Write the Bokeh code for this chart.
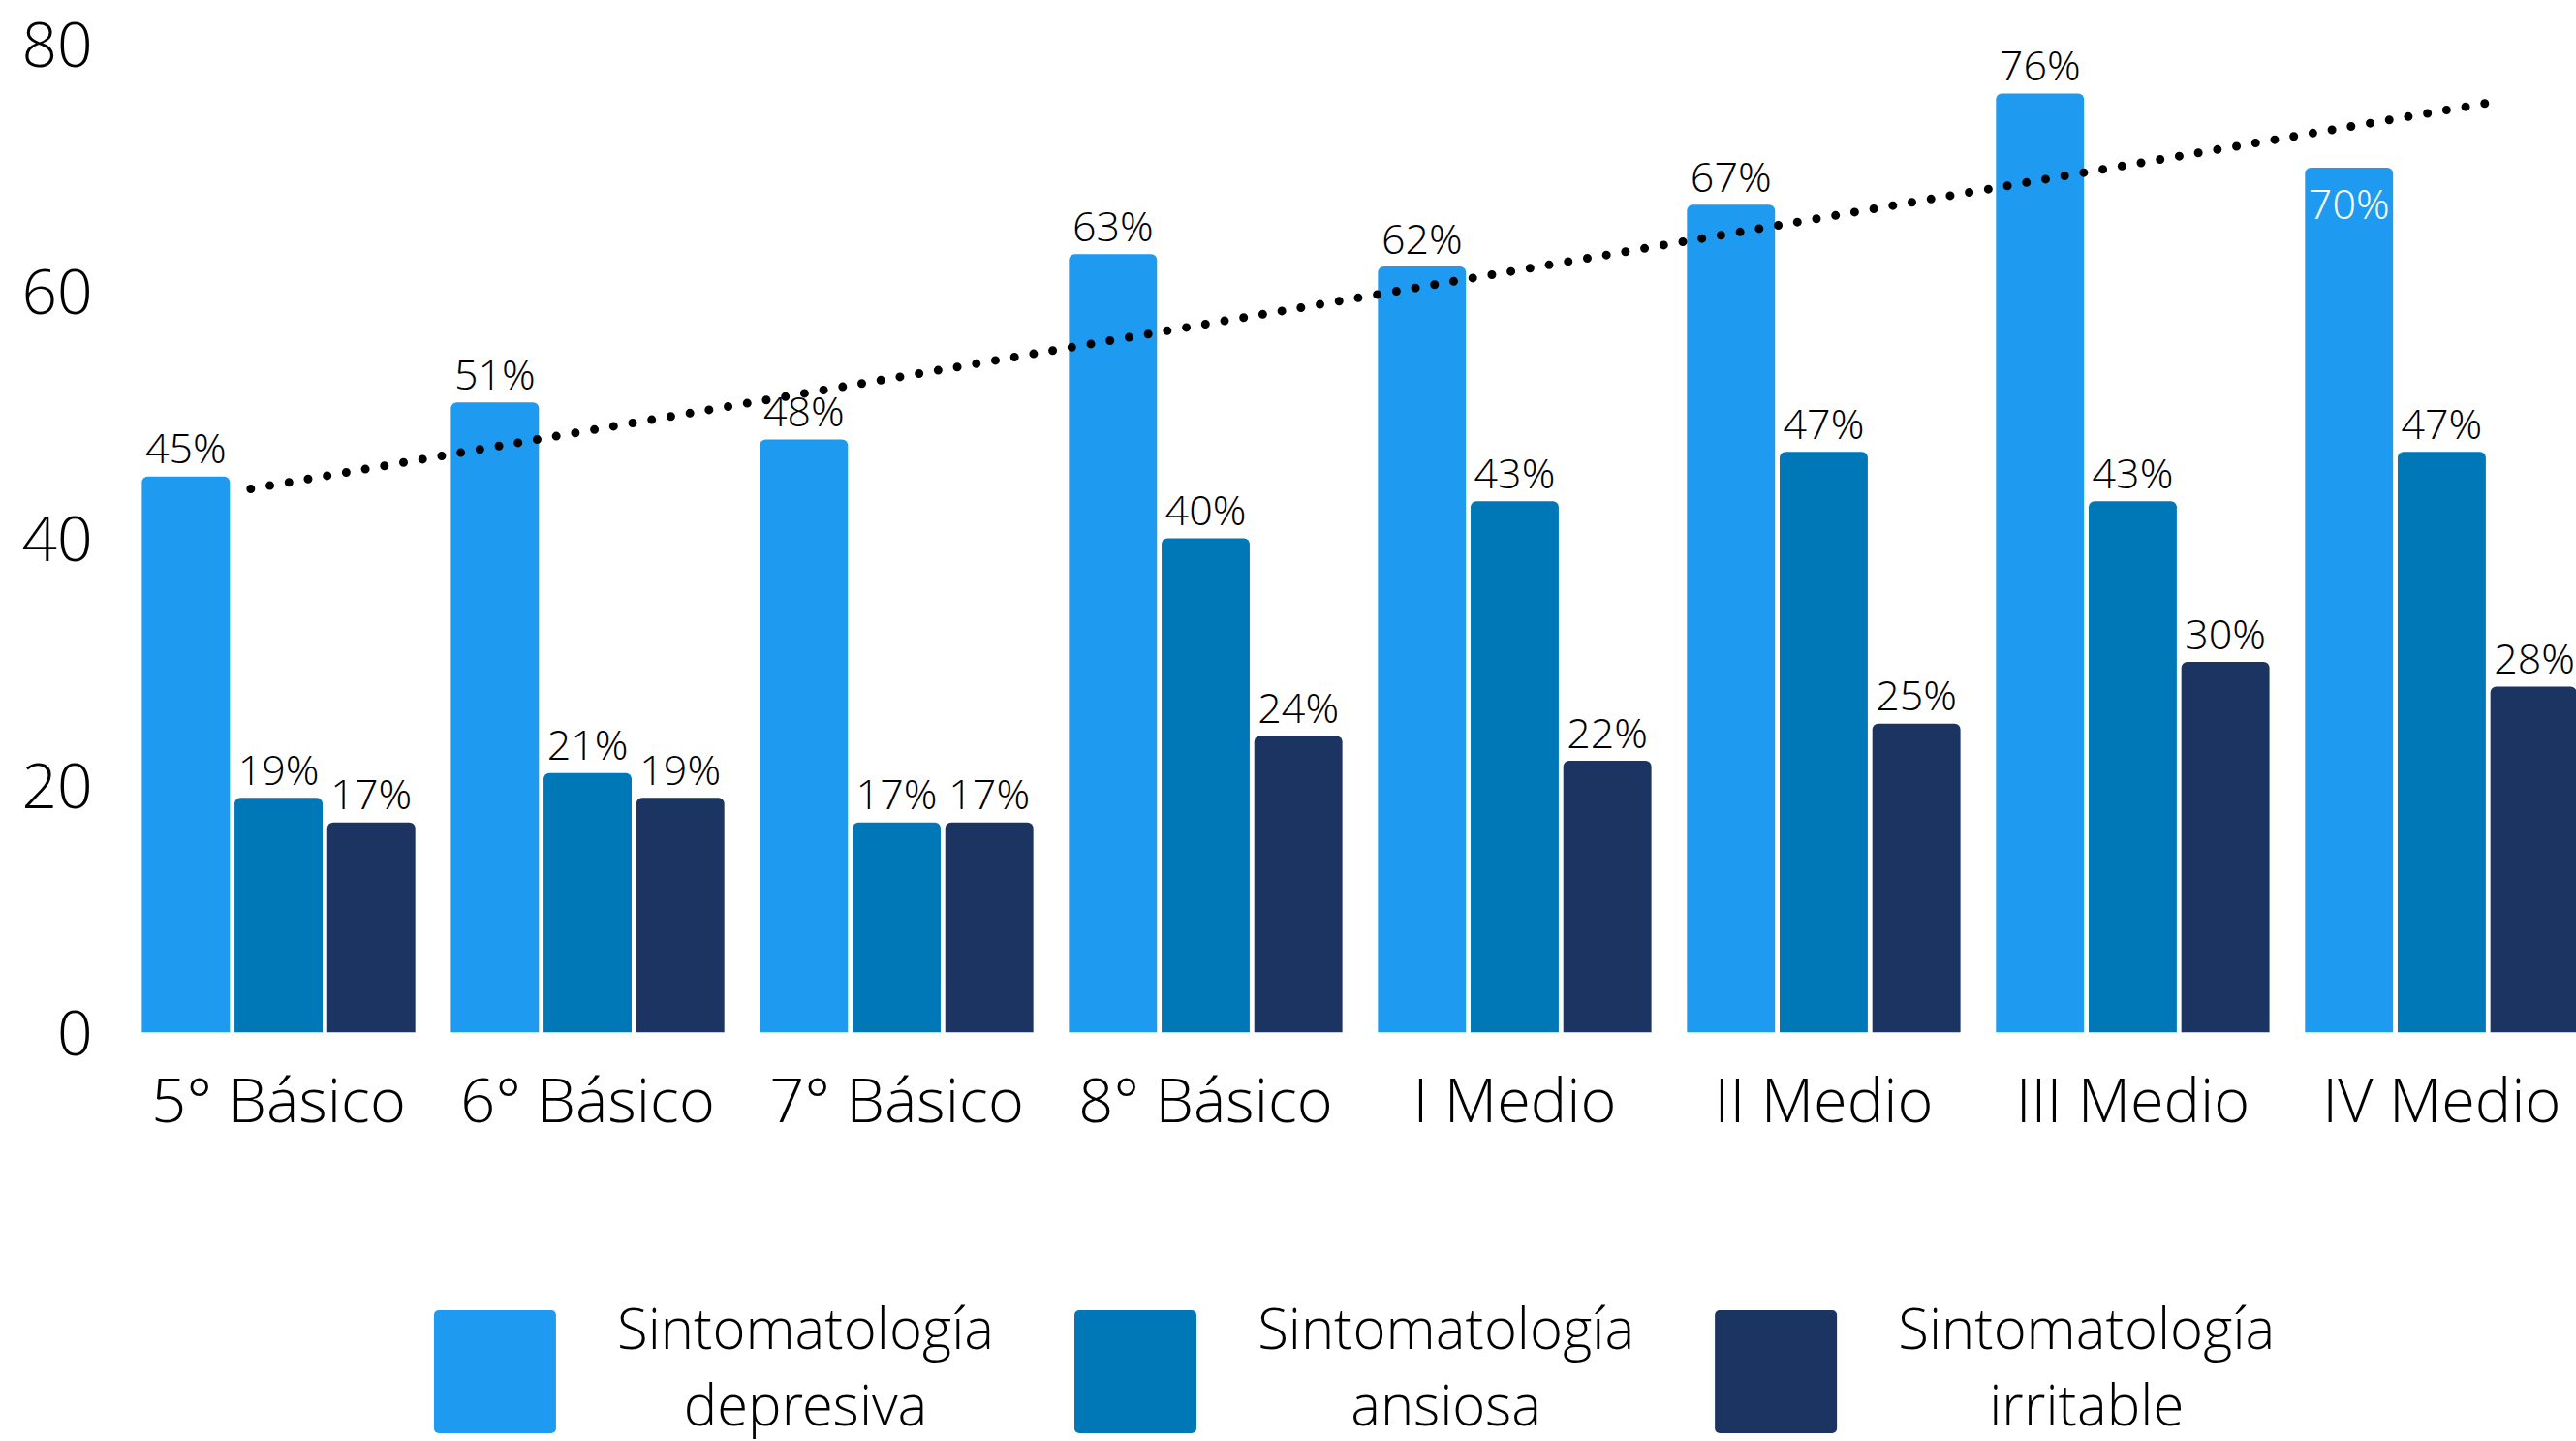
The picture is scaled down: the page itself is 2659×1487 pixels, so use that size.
import numpy as np
from bokeh.plotting import figure
from bokeh.layouts import column
from bokeh.models import ColumnDataSource, Range1d, FixedTicker
from bokeh.transform import dodge
from bokeh.core.properties import value
from bokeh.embed import file_html
from bokeh.resources import INLINE

# ---- data ----
categories = ["5° Básico", "6° Básico", "7° Básico", "8° Básico",
              "I Medio", "II Medio", "III Medio", "IV Medio"]
depresiva = [45, 51, 48, 63, 62, 67, 76, 70]
ansiosa = [19, 21, 17, 40, 43, 47, 43, 47]
irritable = [17, 19, 17, 24, 22, 25, 30, 28]
series_labels = ["Sintomatología\ndepresiva", "Sintomatología\nansiosa", "Sintomatología\nirritable"]
y_ticks = [0, 20, 40, 60, 80]
trend_values = [44.0, 75.2]          # dotted trend line, start and end

# ---- style ----
FONT = "Open Sans Light"
colors = ["#1E9BF0", "#0077B6", "#1B3461"]
offsets = [-0.3, 0.0, 0.3]
BAR_W = 0.285
trend_x = [-0.09, 7.14]
inside_labels = {("IV Medio", 0)}  # label drawn inside the bar in white

idx = list(range(len(categories)))

p = figure(width=2659, height=1300,
           x_range=Range1d(-0.508, 7.436), y_range=Range1d(0, 80),
           output_backend="svg", toolbar_location=None,
           min_border_left=125, min_border_right=0,
           min_border_top=45, min_border_bottom=235)
p.outline_line_color = None
p.xgrid.visible = False
p.ygrid.visible = False

for s, (vals, col, off) in enumerate(zip([depresiva, ansiosa, irritable], colors, offsets)):
    inside = [(c, s) in inside_labels for c in categories]
    src = ColumnDataSource(dict(
        x=idx, top=vals,
        label=[f"{v}%" for v in vals],
        tcolor=["white" if i else "black" for i in inside],
        yoff=[36 if i else -30 for i in inside],
    ))
    p.vbar(x=dodge("x", off), top="top", width=BAR_W, source=src,
           fill_color=col, line_color=None, border_radius=(6, 6, 0, 0))
    p.text(x=dodge("x", off), y="top", text="label", source=src,
           text_font=value(FONT), text_font_size="43px",
           text_align="center", text_baseline="alphabetic",
           text_color="tcolor", y_offset="yoff")

# dotted trend line
p.line(trend_x, trend_values, line_color="black", line_width=9,
       line_dash="0 20", line_cap="round")

# axes
p.xaxis.ticker = FixedTicker(ticks=idx)
p.xaxis.major_label_overrides = {i: c for i, c in zip(idx, categories)}
p.yaxis.ticker = FixedTicker(ticks=y_ticks)
for ax in (p.xaxis, p.yaxis):
    ax.axis_line_color = None
    ax.major_tick_line_color = None
    ax.minor_tick_line_color = None
    ax.major_label_text_font = FONT
    ax.major_label_text_color = "black"
p.xaxis.major_label_text_font_size = "63px"
p.xaxis.major_label_standoff = 19
p.yaxis.major_label_text_font_size = "64px"
p.yaxis.major_label_standoff = 24

# ---- legend (separate strip below the chart; its frame aligns with the chart's) ----
leg = figure(width=2659, height=187,
             x_range=Range1d(-0.583, 3.250), y_range=Range1d(-72, 115),
             output_backend="svg", toolbar_location=None,
             x_axis_location=None, y_axis_location=None,
             min_border_left=125, min_border_right=0, min_border_top=0, min_border_bottom=0)
leg.outline_line_color = None
leg.xgrid.visible = False
leg.ygrid.visible = False
lsrc = ColumnDataSource(dict(x=list(range(len(series_labels))), label=series_labels, color=colors))
leg.rect(x="x", y=0, width=126, height=127, width_units="screen", height_units="screen",
         source=lsrc, fill_color="color", line_color=None, border_radius=5)
leg.text(x=dodge("x", 0.485), y=0, text="label", source=lsrc,
         text_font=value(FONT), text_font_size="58px", text_line_height=1.0,
         text_align="center", text_baseline="middle", text_color="black",
         y_offset=-7)

layout = column(p, leg, spacing=0)
open("out.html", "w").write(file_html(layout, INLINE))
